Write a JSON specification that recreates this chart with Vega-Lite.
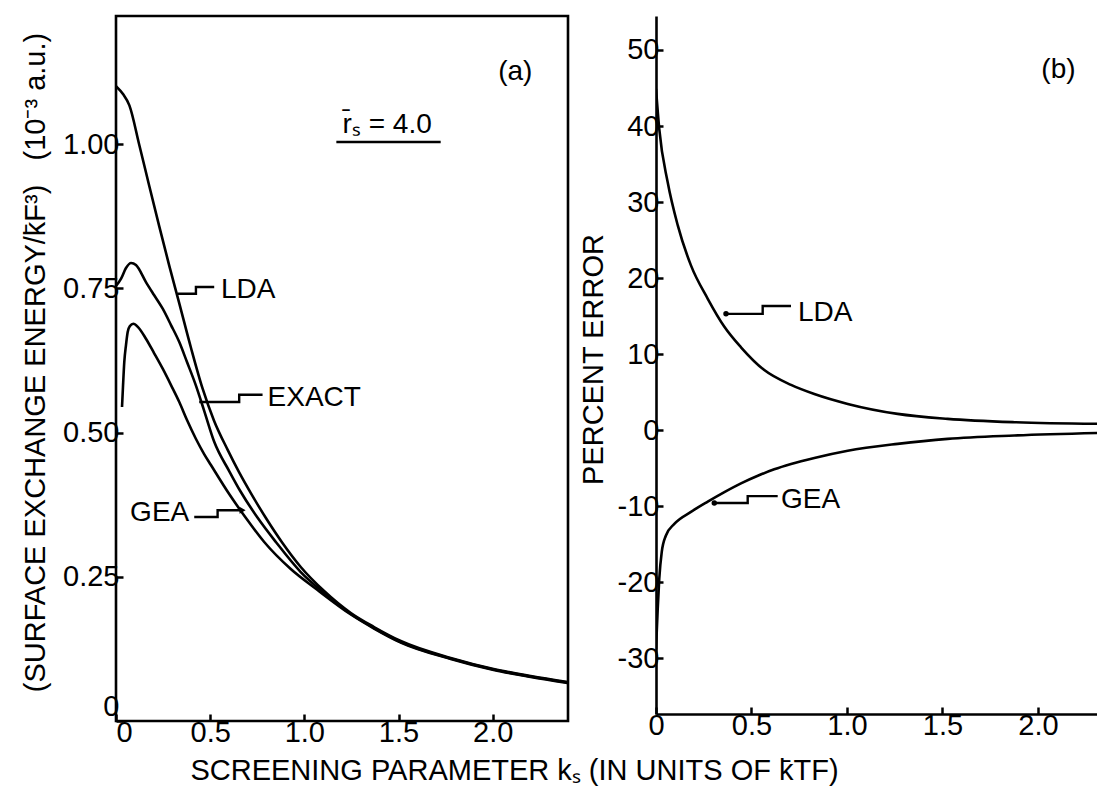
{
  "$schema": "https://vega.github.io/schema/vega-lite/v6.json",
  "background": "white",
  "padding": {"left": 19, "top": 14, "right": 0, "bottom": 0},
  "autosize": {"type": "pad"},
  "config": {
    "font": "Liberation Sans",
    "view": {"stroke": null},
    "axis": {"grid": false, "labelFont": "Liberation Sans", "labelFontSize": 29, "labelColor": "black", "titleFont": "Liberation Sans", "titleFontSize": 29, "titleFontWeight": "normal", "titleColor": "black", "tickColor": "black", "tickWidth": 2.5, "tickSize": -7, "labelPadding": 4, "domainColor": "black", "domainWidth": 2.6},
    "line": {"color": "black", "strokeWidth": 2.6},
    "text": {"font": "Liberation Sans", "fontSize": 28, "color": "black"}
  },
  "bounds": "flush",
  "spacing": 88,
  "datasets": {
    "a_curves": [
      {"curve": "LDA", "i": 0, "k": 0, "E": 1.1005},
      {"curve": "LDA", "i": 1, "k": 0.037, "E": 1.0867},
      {"curve": "LDA", "i": 2, "k": 0.071, "E": 1.0671},
      {"curve": "LDA", "i": 3, "k": 0.124, "E": 0.998},
      {"curve": "LDA", "i": 4, "k": 0.177, "E": 0.927},
      {"curve": "LDA", "i": 5, "k": 0.23, "E": 0.857},
      {"curve": "LDA", "i": 6, "k": 0.283, "E": 0.789},
      {"curve": "LDA", "i": 7, "k": 0.336, "E": 0.724},
      {"curve": "LDA", "i": 8, "k": 0.398, "E": 0.647},
      {"curve": "LDA", "i": 9, "k": 0.46, "E": 0.576},
      {"curve": "LDA", "i": 10, "k": 0.52, "E": 0.521},
      {"curve": "LDA", "i": 11, "k": 0.593, "E": 0.47},
      {"curve": "LDA", "i": 12, "k": 0.654, "E": 0.431},
      {"curve": "LDA", "i": 13, "k": 0.716, "E": 0.3951},
      {"curve": "LDA", "i": 14, "k": 0.796, "E": 0.3518},
      {"curve": "LDA", "i": 15, "k": 0.884, "E": 0.3085},
      {"curve": "LDA", "i": 16, "k": 0.981, "E": 0.2669},
      {"curve": "LDA", "i": 17, "k": 1.105, "E": 0.2253},
      {"curve": "LDA", "i": 18, "k": 1.247, "E": 0.1872},
      {"curve": "LDA", "i": 19, "k": 1.37, "E": 0.1629},
      {"curve": "LDA", "i": 20, "k": 1.512, "E": 0.1386},
      {"curve": "LDA", "i": 21, "k": 1.777, "E": 0.1092},
      {"curve": "LDA", "i": 22, "k": 2.005, "E": 0.0901},
      {"curve": "LDA", "i": 23, "k": 2.202, "E": 0.078},
      {"curve": "LDA", "i": 24, "k": 2.398, "E": 0.0676},
      {"curve": "EXACT", "i": 0, "k": 0, "E": 0.7539},
      {"curve": "EXACT", "i": 1, "k": 0.027, "E": 0.7666},
      {"curve": "EXACT", "i": 2, "k": 0.053, "E": 0.7851},
      {"curve": "EXACT", "i": 3, "k": 0.08, "E": 0.7938},
      {"curve": "EXACT", "i": 4, "k": 0.106, "E": 0.7903},
      {"curve": "EXACT", "i": 5, "k": 0.159, "E": 0.7608},
      {"curve": "EXACT", "i": 6, "k": 0.202, "E": 0.7383},
      {"curve": "EXACT", "i": 7, "k": 0.248, "E": 0.7146},
      {"curve": "EXACT", "i": 8, "k": 0.292, "E": 0.6863},
      {"curve": "EXACT", "i": 9, "k": 0.336, "E": 0.6568},
      {"curve": "EXACT", "i": 10, "k": 0.377, "E": 0.6222},
      {"curve": "EXACT", "i": 11, "k": 0.424, "E": 0.5818},
      {"curve": "EXACT", "i": 12, "k": 0.467, "E": 0.539},
      {"curve": "EXACT", "i": 13, "k": 0.522, "E": 0.4835},
      {"curve": "EXACT", "i": 14, "k": 0.601, "E": 0.4333},
      {"curve": "EXACT", "i": 15, "k": 0.663, "E": 0.3969},
      {"curve": "EXACT", "i": 16, "k": 0.753, "E": 0.3518},
      {"curve": "EXACT", "i": 17, "k": 0.849, "E": 0.3102},
      {"curve": "EXACT", "i": 18, "k": 0.981, "E": 0.2582},
      {"curve": "EXACT", "i": 19, "k": 1.105, "E": 0.2218},
      {"curve": "EXACT", "i": 20, "k": 1.247, "E": 0.1854},
      {"curve": "EXACT", "i": 21, "k": 1.37, "E": 0.1612},
      {"curve": "EXACT", "i": 22, "k": 1.512, "E": 0.1369},
      {"curve": "EXACT", "i": 23, "k": 1.777, "E": 0.1083},
      {"curve": "EXACT", "i": 24, "k": 2.005, "E": 0.0893},
      {"curve": "EXACT", "i": 25, "k": 2.202, "E": 0.0771},
      {"curve": "EXACT", "i": 26, "k": 2.398, "E": 0.0667},
      {"curve": "GEA", "i": 0, "k": 0.032, "E": 0.5442},
      {"curve": "GEA", "i": 1, "k": 0.037, "E": 0.5789},
      {"curve": "GEA", "i": 2, "k": 0.044, "E": 0.6222},
      {"curve": "GEA", "i": 3, "k": 0.053, "E": 0.6516},
      {"curve": "GEA", "i": 4, "k": 0.062, "E": 0.6742},
      {"curve": "GEA", "i": 5, "k": 0.074, "E": 0.6846},
      {"curve": "GEA", "i": 6, "k": 0.092, "E": 0.6886},
      {"curve": "GEA", "i": 7, "k": 0.117, "E": 0.6828},
      {"curve": "GEA", "i": 8, "k": 0.159, "E": 0.6626},
      {"curve": "GEA", "i": 9, "k": 0.202, "E": 0.6378},
      {"curve": "GEA", "i": 10, "k": 0.248, "E": 0.6106},
      {"curve": "GEA", "i": 11, "k": 0.292, "E": 0.5823},
      {"curve": "GEA", "i": 12, "k": 0.336, "E": 0.5529},
      {"curve": "GEA", "i": 13, "k": 0.377, "E": 0.5217},
      {"curve": "GEA", "i": 14, "k": 0.424, "E": 0.4893},
      {"curve": "GEA", "i": 15, "k": 0.468, "E": 0.4627},
      {"curve": "GEA", "i": 16, "k": 0.504, "E": 0.4437},
      {"curve": "GEA", "i": 17, "k": 0.601, "E": 0.3934},
      {"curve": "GEA", "i": 18, "k": 0.69, "E": 0.3518},
      {"curve": "GEA", "i": 19, "k": 0.787, "E": 0.3102},
      {"curve": "GEA", "i": 20, "k": 0.928, "E": 0.2634},
      {"curve": "GEA", "i": 21, "k": 1.07, "E": 0.227},
      {"curve": "GEA", "i": 22, "k": 1.247, "E": 0.1846},
      {"curve": "GEA", "i": 23, "k": 1.37, "E": 0.1603},
      {"curve": "GEA", "i": 24, "k": 1.512, "E": 0.136},
      {"curve": "GEA", "i": 25, "k": 1.777, "E": 0.1075},
      {"curve": "GEA", "i": 26, "k": 2.005, "E": 0.0884},
      {"curve": "GEA", "i": 27, "k": 2.202, "E": 0.0763},
      {"curve": "GEA", "i": 28, "k": 2.398, "E": 0.0659}
    ],
    "a_leaders": [
      {"id": "LDA", "i": 0, "k": 0.327, "E": 0.7405},
      {"id": "LDA", "i": 1, "k": 0.4244, "E": 0.7405},
      {"id": "LDA", "i": 2, "k": 0.4244, "E": 0.7522},
      {"id": "LDA", "i": 3, "k": 0.5215, "E": 0.7522},
      {"id": "EXACT", "i": 0, "k": 0.4419, "E": 0.5529},
      {"id": "EXACT", "i": 1, "k": 0.6541, "E": 0.5529},
      {"id": "EXACT", "i": 2, "k": 0.6541, "E": 0.5655},
      {"id": "EXACT", "i": 3, "k": 0.7782, "E": 0.5655},
      {"id": "GEA", "i": 0, "k": 0.4154, "E": 0.3535},
      {"id": "GEA", "i": 1, "k": 0.5395, "E": 0.3535},
      {"id": "GEA", "i": 2, "k": 0.5395, "E": 0.3652},
      {"id": "GEA", "i": 3, "k": 0.6721, "E": 0.3652}
    ],
    "a_labels": [
      {"label": "LDA", "k": 0.557, "E": 0.7464},
      {"label": "EXACT", "k": 0.8048, "E": 0.5598},
      {"label": "GEA", "k": 0.3889, "E": 0.3605}
    ],
    "a_notes": [
      {"label": "(a)", "k": 2.12, "E": 1.125},
      {"label": "r̄ₛ = 4.0", "k": 1.44, "E": 1.033}
    ],
    "a_underline": [
      {"k": 1.17, "k2": 1.724, "E": 1.0035}
    ],
    "b_curves": [
      {"curve": "LDA", "i": 0, "k": 0, "err": 44.9},
      {"curve": "LDA", "i": 1, "k": 0.017, "err": 39.64},
      {"curve": "LDA", "i": 2, "k": 0.061, "err": 32.63},
      {"curve": "LDA", "i": 3, "k": 0.114, "err": 26.93},
      {"curve": "LDA", "i": 4, "k": 0.183, "err": 21.67},
      {"curve": "LDA", "i": 5, "k": 0.271, "err": 17.28},
      {"curve": "LDA", "i": 6, "k": 0.358, "err": 13.6},
      {"curve": "LDA", "i": 7, "k": 0.445, "err": 10.9},
      {"curve": "LDA", "i": 8, "k": 0.567, "err": 7.9},
      {"curve": "LDA", "i": 9, "k": 0.707, "err": 5.95},
      {"curve": "LDA", "i": 10, "k": 0.829, "err": 4.75},
      {"curve": "LDA", "i": 11, "k": 1.004, "err": 3.45},
      {"curve": "LDA", "i": 12, "k": 1.265, "err": 2.14},
      {"curve": "LDA", "i": 13, "k": 1.527, "err": 1.49},
      {"curve": "LDA", "i": 14, "k": 1.876, "err": 1.05},
      {"curve": "LDA", "i": 15, "k": 2.325, "err": 0.83},
      {"curve": "GEA", "i": 0, "k": 0, "err": -28.8},
      {"curve": "GEA", "i": 1, "k": 0.009, "err": -23.51},
      {"curve": "GEA", "i": 2, "k": 0.017, "err": -19.57},
      {"curve": "GEA", "i": 3, "k": 0.03, "err": -16.05},
      {"curve": "GEA", "i": 4, "k": 0.052, "err": -13.86},
      {"curve": "GEA", "i": 5, "k": 0.096, "err": -12.33},
      {"curve": "GEA", "i": 6, "k": 0.183, "err": -10.75},
      {"curve": "GEA", "i": 7, "k": 0.271, "err": -9.4},
      {"curve": "GEA", "i": 8, "k": 0.358, "err": -8.15},
      {"curve": "GEA", "i": 9, "k": 0.445, "err": -7.0},
      {"curve": "GEA", "i": 10, "k": 0.533, "err": -6.0},
      {"curve": "GEA", "i": 11, "k": 0.619, "err": -5.15},
      {"curve": "GEA", "i": 12, "k": 0.707, "err": -4.45},
      {"curve": "GEA", "i": 13, "k": 0.829, "err": -3.65},
      {"curve": "GEA", "i": 14, "k": 1.004, "err": -2.7},
      {"curve": "GEA", "i": 15, "k": 1.265, "err": -1.8},
      {"curve": "GEA", "i": 16, "k": 1.527, "err": -1.14},
      {"curve": "GEA", "i": 17, "k": 1.876, "err": -0.7},
      {"curve": "GEA", "i": 18, "k": 2.325, "err": -0.36}
    ],
    "b_leaders": [
      {"id": "LDA", "i": 0, "k": 0.3665, "err": 15.3},
      {"id": "LDA", "i": 1, "k": 0.5586, "err": 15.3},
      {"id": "LDA", "i": 2, "k": 0.5586, "err": 16.32},
      {"id": "LDA", "i": 3, "k": 0.7068, "err": 16.32},
      {"id": "GEA", "i": 0, "k": 0.3052, "err": -9.57},
      {"id": "GEA", "i": 1, "k": 0.4801, "err": -9.57},
      {"id": "GEA", "i": 2, "k": 0.4801, "err": -8.68},
      {"id": "GEA", "i": 3, "k": 0.6372, "err": -8.68}
    ],
    "b_labels": [
      {"label": "LDA", "k": 0.7435, "err": 15.4},
      {"label": "GEA", "k": 0.6545, "err": -9.25}
    ],
    "b_notes": [
      {"label": "(b)", "k": 2.107, "err": 47.4}
    ]
  },
  "hconcat": [
    {
      "width": 452,
      "height": 705,
      "view": {"stroke": "black", "strokeWidth": 2.6},
      "encoding": {
        "x": {
          "field": "k", "type": "quantitative",
          "scale": {"domain": [0, 2.4], "nice": false, "zero": false},
          "axis": {
            "values": [0, 0.5, 1, 1.5, 2],
            "labelExpr": "datum.value == 0 ? '0' : format(datum.value, '.1f')",
            "domain": false,
            "title": "SCREENING PARAMETER kₛ (IN UNITS OF k̄TF)",
            "titleX": 398, "titleY": 49, "titleBaseline": "middle", "titleAlign": "center"
          }
        },
        "y": {
          "field": "E", "type": "quantitative",
          "scale": {"domain": [0, 1.222], "nice": false, "zero": false},
          "axis": {
            "values": [0, 0.25, 0.5, 0.75, 1],
            "labelExpr": "datum.value == 0 ? '0' : format(datum.value, '.2f')",
            "labelOffset": {"condition": {"test": "datum.value == 0", "value": -15}, "value": 0},
            "domain": false,
            "title": "(SURFACE EXCHANGE ENERGY/k̄F³)\u00a0\u00a0\u00a0(10⁻³ a.u.)",
            "titleX": -81, "titleY": 346, "titleAngle": 270, "titleBaseline": "middle", "titleAlign": "center"
          }
        }
      },
      "layer": [
        {"data": {"name": "a_curves"}, "mark": {"type": "line", "clip": true, "interpolate": "monotone"}, "encoding": {"detail": {"field": "curve", "type": "nominal"}, "order": {"field": "i", "type": "quantitative"}}},
        {"data": {"name": "a_leaders"}, "mark": {"type": "line", "strokeWidth": 2.4}, "encoding": {"detail": {"field": "id", "type": "nominal"}, "order": {"field": "i", "type": "quantitative"}}},
        {"data": {"name": "a_leaders"}, "transform": [{"filter": "datum.id == 'GEA' && datum.i == 3"}], "mark": {"type": "point", "shape": "triangle-right", "filled": true, "color": "black", "size": 50, "opacity": 1}},
        {"data": {"name": "a_labels"}, "transform": [{"filter": "datum.label != 'GEA'"}], "mark": {"type": "text", "align": "left", "baseline": "middle"}, "encoding": {"text": {"field": "label"}}},
        {"data": {"name": "a_labels"}, "transform": [{"filter": "datum.label == 'GEA'"}], "mark": {"type": "text", "align": "right", "baseline": "middle"}, "encoding": {"text": {"field": "label"}}},
        {"data": {"name": "a_notes"}, "mark": {"type": "text", "align": "center", "baseline": "middle"}, "encoding": {"text": {"field": "label"}}},
        {"data": {"name": "a_underline"}, "mark": {"type": "rule", "strokeWidth": 2.6, "color": "black"}, "encoding": {"x2": {"field": "k2"}}}
      ]
    },
    {
      "width": 441,
      "height": 698,
      "encoding": {
        "x": {
          "field": "k", "type": "quantitative",
          "scale": {"domain": [0, 2.309], "nice": false, "zero": false},
          "axis": {
            "values": [0, 0.5, 1, 1.5, 2],
            "labelExpr": "datum.value == 0 ? '0' : format(datum.value, '.1f')",
            "labelFlush": false,
            "title": null
          }
        },
        "y": {
          "field": "err", "type": "quantitative",
          "scale": {"domain": [-37.33, 54.47], "nice": false, "zero": false},
          "axis": {
            "values": [-30, -20, -10, 0, 10, 20, 30, 40, 50],
            "labelExpr": "datum.value + ''",
            "title": "PERCENT ERROR",
            "titleX": -63, "titleY": 343, "titleAngle": 270, "titleBaseline": "middle", "titleAlign": "center"
          }
        }
      },
      "layer": [
        {"data": {"values": [{}]}, "mark": {"type": "rule", "strokeWidth": 2.6, "color": "black"}, "encoding": {"x": {"datum": 0}, "x2": {"datum": 2.309}, "y": {"datum": 54.47}}},
        {"data": {"values": [{}]}, "mark": {"type": "rule", "strokeWidth": 2.8, "color": "black"}, "encoding": {"x": {"datum": 0}, "x2": {"datum": 2.309}, "y": {"datum": 0}}},
        {"data": {"name": "b_curves"}, "mark": {"type": "line", "clip": true, "interpolate": "monotone"}, "encoding": {"detail": {"field": "curve", "type": "nominal"}, "order": {"field": "i", "type": "quantitative"}}},
        {"data": {"name": "b_leaders"}, "mark": {"type": "line", "strokeWidth": 2.4}, "encoding": {"detail": {"field": "id", "type": "nominal"}, "order": {"field": "i", "type": "quantitative"}}},
        {"data": {"name": "b_leaders"}, "transform": [{"filter": "datum.i == 0"}], "mark": {"type": "point", "shape": "circle", "filled": true, "color": "black", "size": 30, "opacity": 1}},
        {"data": {"name": "b_labels"}, "mark": {"type": "text", "align": "left", "baseline": "middle"}, "encoding": {"text": {"field": "label"}}},
        {"data": {"name": "b_notes"}, "mark": {"type": "text", "align": "center", "baseline": "middle"}, "encoding": {"text": {"field": "label"}}}
      ]
    }
  ]
}
